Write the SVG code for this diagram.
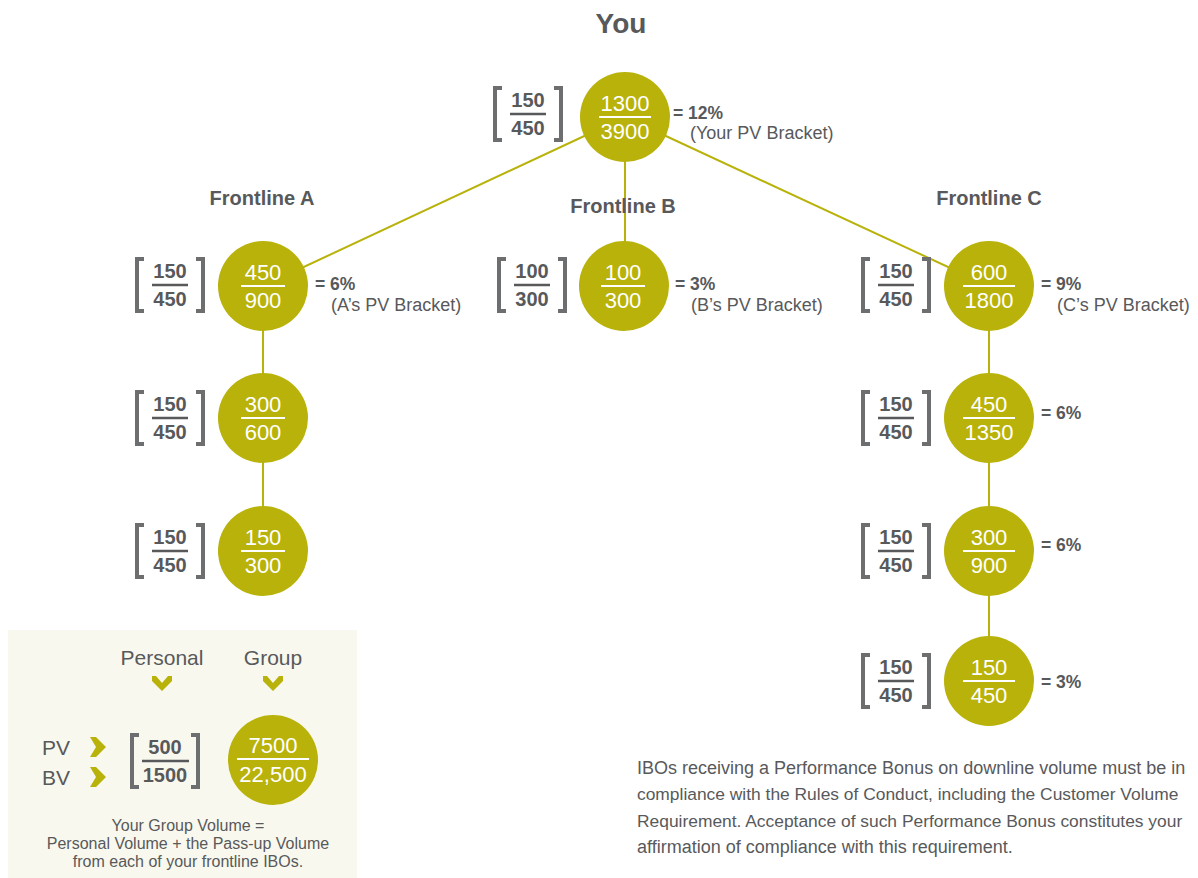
<svg xmlns="http://www.w3.org/2000/svg" xmlns:xlink="http://www.w3.org/1999/xlink" width="1198" height="878" viewBox="0 0 1198 878">
<style>
.c{fill:#b8b20a}
.ct{font-family:"Liberation Sans",Arial,sans-serif;font-size:22px;fill:#ffffff;text-anchor:middle}
.wl{stroke:#ffffff;stroke-width:2}
.bt{font-family:"Liberation Sans",Arial,sans-serif;font-size:20px;font-weight:bold;fill:#58595b;text-anchor:middle}
.bl{stroke:#58595b;stroke-width:2.5}
.br{fill:none;stroke:#6d6e70;stroke-width:4}
.pct{font-family:"Liberation Sans",Arial,sans-serif;font-size:17.5px;font-weight:bold;fill:#58595b}
.sub{font-family:"Liberation Sans",Arial,sans-serif;font-size:18px;fill:#58595b}
.hd{font-family:"Liberation Sans",Arial,sans-serif;font-size:20px;font-weight:bold;fill:#58595b;text-anchor:middle}
.con{stroke:#b8b20a;stroke-width:2;fill:none}
.lg{font-family:"Liberation Sans",Arial,sans-serif;font-size:21px;fill:#58595b}
.sm{font-family:"Liberation Sans",Arial,sans-serif;font-size:16px;fill:#58595b;text-anchor:middle}
.body{font-family:"Liberation Sans",Arial,sans-serif;font-size:18px;fill:#58595b}
.body2{font-family:"Liberation Sans",Arial,sans-serif;font-size:17.4px;fill:#58595b}
.chev{fill:#b8b20a}
</style>
<defs>
<path id="brk" class="br" d="M9,-26 H2 V26 H9 M61,-26 H68 V26 H61"/>
</defs>
<rect width="1198" height="878" fill="#ffffff"/>
<text x="621" y="33" font-family="Liberation Sans,Arial,sans-serif" font-size="28" font-weight="bold" fill="#58595b" text-anchor="middle">You</text>
<g id="connectors">
<line class="con" x1="625" y1="117" x2="263" y2="286"/>
<line class="con" x1="625" y1="117" x2="625" y2="286"/>
<line class="con" x1="625" y1="117" x2="989" y2="286"/>
<line class="con" x1="263" y1="286" x2="263" y2="551"/>
<line class="con" x1="989" y1="286" x2="989" y2="681"/>
</g>
<text class="hd" x="262" y="205">Frontline A</text>
<text class="hd" x="623" y="213">Frontline B</text>
<text class="hd" x="989" y="205">Frontline C</text>
<g id="you">
<use xlink:href="#brk" x="493" y="114"/>
<text class="bt" x="528" y="107">150</text><line class="bl" x1="510" y1="114" x2="546" y2="114"/><text class="bt" x="528" y="135">450</text>
<circle class="c" cx="625" cy="117" r="45"/>
<text class="ct" x="625" y="111">1300</text><line class="wl" x1="599" y1="117" x2="651" y2="117"/><text class="ct" x="625" y="139">3900</text>
<text class="pct" x="673" y="119">= 12%</text><text class="sub" x="690" y="139">(Your PV Bracket)</text>
</g>
<g id="a1">
<use xlink:href="#brk" x="135" y="285"/>
<text class="bt" x="170" y="278">150</text><line class="bl" x1="152" y1="285" x2="188" y2="285"/><text class="bt" x="170" y="306">450</text>
<circle class="c" cx="263" cy="286" r="45"/>
<text class="ct" x="263" y="280">450</text><line class="wl" x1="241" y1="286" x2="285" y2="286"/><text class="ct" x="263" y="308">900</text>
<text class="pct" x="315" y="290">= 6%</text><text class="sub" x="331" y="311">(A’s PV Bracket)</text>
</g>
<g id="a2">
<use xlink:href="#brk" x="135" y="418"/>
<text class="bt" x="170" y="411">150</text><line class="bl" x1="152" y1="418" x2="188" y2="418"/><text class="bt" x="170" y="439">450</text>
<circle class="c" cx="263" cy="418" r="45"/>
<text class="ct" x="263" y="412">300</text><line class="wl" x1="241" y1="418" x2="285" y2="418"/><text class="ct" x="263" y="440">600</text>
</g>
<g id="a3">
<use xlink:href="#brk" x="135" y="551"/>
<text class="bt" x="170" y="544">150</text><line class="bl" x1="152" y1="551" x2="188" y2="551"/><text class="bt" x="170" y="572">450</text>
<circle class="c" cx="263" cy="551" r="45"/>
<text class="ct" x="263" y="545">150</text><line class="wl" x1="241" y1="551" x2="285" y2="551"/><text class="ct" x="263" y="573">300</text>
</g>
<g id="b1">
<use xlink:href="#brk" x="497" y="285"/>
<text class="bt" x="532" y="278">100</text><line class="bl" x1="514" y1="285" x2="550" y2="285"/><text class="bt" x="532" y="306">300</text>
<circle class="c" cx="624" cy="286" r="45"/>
<text class="ct" x="623" y="280">100</text><line class="wl" x1="601" y1="286" x2="645" y2="286"/><text class="ct" x="623" y="308">300</text>
<text class="pct" x="675" y="290">= 3%</text><text class="sub" x="691" y="311">(B’s PV Bracket)</text>
</g>
<g id="c1">
<use xlink:href="#brk" x="861" y="285"/>
<text class="bt" x="896" y="278">150</text><line class="bl" x1="878" y1="285" x2="914" y2="285"/><text class="bt" x="896" y="306">450</text>
<circle class="c" cx="989" cy="286" r="45"/>
<text class="ct" x="989" y="280">600</text><line class="wl" x1="963" y1="286" x2="1015" y2="286"/><text class="ct" x="989" y="308">1800</text>
<text class="pct" x="1041" y="290">= 9%</text><text class="sub" x="1057" y="311">(C’s PV Bracket)</text>
</g>
<g id="c2">
<use xlink:href="#brk" x="861" y="418"/>
<text class="bt" x="896" y="411">150</text><line class="bl" x1="878" y1="418" x2="914" y2="418"/><text class="bt" x="896" y="439">450</text>
<circle class="c" cx="989" cy="418" r="45"/>
<text class="ct" x="989" y="412">450</text><line class="wl" x1="963" y1="418" x2="1015" y2="418"/><text class="ct" x="989" y="440">1350</text>
<text class="pct" x="1041" y="419">= 6%</text>
</g>
<g id="c3">
<use xlink:href="#brk" x="861" y="551"/>
<text class="bt" x="896" y="544">150</text><line class="bl" x1="878" y1="551" x2="914" y2="551"/><text class="bt" x="896" y="572">450</text>
<circle class="c" cx="989" cy="551" r="45"/>
<text class="ct" x="989" y="545">300</text><line class="wl" x1="963" y1="551" x2="1015" y2="551"/><text class="ct" x="989" y="573">900</text>
<text class="pct" x="1041" y="551">= 6%</text>
</g>
<g id="c4">
<use xlink:href="#brk" x="861" y="681"/>
<text class="bt" x="896" y="674">150</text><line class="bl" x1="878" y1="681" x2="914" y2="681"/><text class="bt" x="896" y="702">450</text>
<circle class="c" cx="989" cy="681" r="45"/>
<text class="ct" x="989" y="675">150</text><line class="wl" x1="963" y1="681" x2="1015" y2="681"/><text class="ct" x="989" y="703">450</text>
<text class="pct" x="1041" y="688">= 3%</text>
</g>
<g id="legend">
<rect x="8" y="630" width="349" height="248" fill="#f8f8ee"/>
<text class="lg" x="162" y="665" text-anchor="middle">Personal</text>
<text class="lg" x="273" y="665" text-anchor="middle">Group</text>
<polygon class="chev" points="152,676 156,676 162,683 168,676 172,676 172,681 162,691 152,681"/>
<polygon class="chev" points="263,676 267,676 273,683 279,676 283,676 283,681 273,691 263,681"/>
<text class="lg" x="42" y="755">PV</text>
<text class="lg" x="42" y="785">BV</text>
<polygon class="chev" points="90,737 96,737 106,747 96,757 90,757 96,747"/>
<polygon class="chev" points="90,767 96,767 106,777 96,787 90,787 96,777"/>
<use xlink:href="#brk" x="130" y="761"/>
<text class="bt" x="165" y="754">500</text><line class="bl" x1="142" y1="761" x2="189" y2="761"/><text class="bt" x="165" y="782">1500</text>
<circle class="c" cx="273" cy="760" r="45"/>
<text class="ct" x="273" y="753">7500</text><line class="wl" x1="237" y1="759" x2="309" y2="759"/><text class="ct" x="273" y="782">22,500</text>
<text class="sm" x="188" y="831">Your Group Volume =</text>
<text class="sm" x="188" y="849">Personal Volume + the Pass-up Volume</text>
<text class="sm" x="188" y="867">from each of your frontline IBOs.</text>
</g>
<g id="note">
<text class="body" x="637" y="774">IBOs receiving a Performance Bonus on downline volume must be in</text>
<text class="body2" x="637" y="800">compliance with the Rules of Conduct, including the Customer Volume</text>
<text class="body2" x="637" y="827">Requirement. Acceptance of such Performance Bonus constitutes your</text>
<text class="body" x="637" y="853">affirmation of compliance with this requirement.</text>
</g>
</svg>
